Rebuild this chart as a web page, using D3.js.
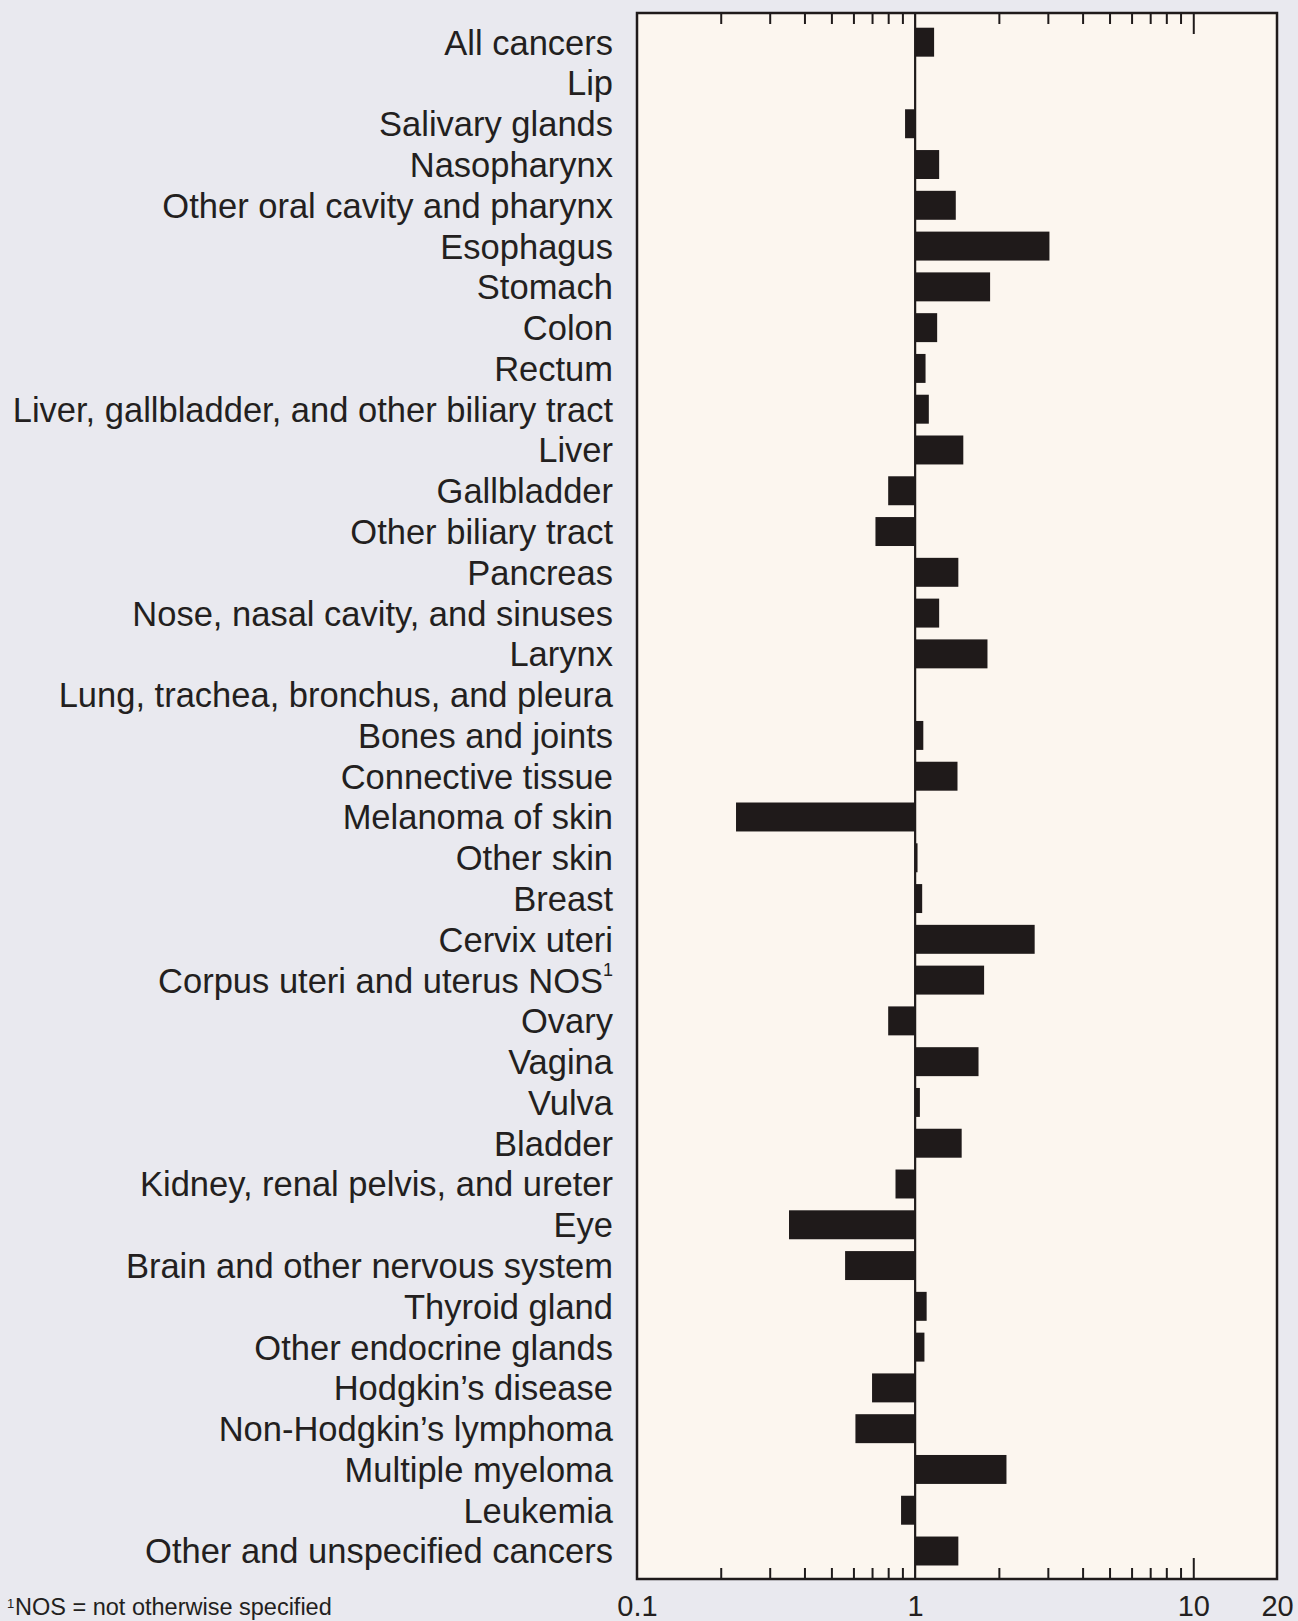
<!DOCTYPE html>
<html>
<head>
<meta charset="utf-8">
<script src="https://cdn.jsdelivr.net/npm/d3@7"></script>
<style>
  html, body { margin: 0; padding: 0; background: #e9e9ef; }
  svg { display: block; }
  text { font-family: "Liberation Sans", Arial, Helvetica, sans-serif; fill: #231f20; }
</style>
</head>
<body>
<svg id="chart" width="1298" height="1621"></svg>
<script>
const categories = [
  "All cancers", "Lip", "Salivary glands", "Nasopharynx", "Other oral cavity and pharynx",
  "Esophagus", "Stomach", "Colon", "Rectum", "Liver, gallbladder, and other biliary tract",
  "Liver", "Gallbladder", "Other biliary tract", "Pancreas", "Nose, nasal cavity, and sinuses",
  "Larynx", "Lung, trachea, bronchus, and pleura", "Bones and joints", "Connective tissue",
  "Melanoma of skin", "Other skin", "Breast", "Cervix uteri", "Corpus uteri and uterus NOS",
  "Ovary", "Vagina", "Vulva", "Bladder", "Kidney, renal pelvis, and ureter", "Eye",
  "Brain and other nervous system", "Thyroid gland", "Other endocrine glands",
  "Hodgkin\u2019s disease", "Non-Hodgkin\u2019s lymphoma", "Multiple myeloma", "Leukemia",
  "Other and unspecified cancers"
];
const values = [
  1.17, 1.00, 0.92, 1.22, 1.40,
  3.04, 1.86, 1.20, 1.09, 1.12,
  1.49, 0.80, 0.72, 1.43, 1.22,
  1.82, 1.00, 1.07, 1.42,
  0.227, 1.02, 1.06, 2.69, 1.77,
  0.80, 1.69, 1.04, 1.47, 0.85, 0.352,
  0.56, 1.10, 1.08,
  0.70, 0.61, 2.13, 0.89,
  1.43
];
const superscripted = ["Corpus uteri and uterus NOS"];
const tickLabels = [0.1, 1, 10, 20];
const minorTicks = [0.2, 0.3, 0.4, 0.5, 0.6, 0.7, 0.8, 0.9, 2, 3, 4, 5, 6, 7, 8, 9];
const majorTicks = [10];
const footnote = "NOS = not otherwise specified";

const svg = d3.select("#chart");
const W = 1298, H = 1621;
const plot = { left: 637, right: 1277, top: 13, bottom: 1579 };

svg.append("rect").attr("x", 0).attr("y", 0).attr("width", W).attr("height", H).attr("fill", "#e9e9ef");

const x = d3.scaleLog().domain([0.1, 20]).range([plot.left, plot.right]);
const y = d3.scaleBand().domain(categories).range([21.8, 1571.4]).paddingInner(0.29).paddingOuter(0.145);

// plot background
svg.append("rect")
  .attr("x", plot.left).attr("y", plot.top)
  .attr("width", plot.right - plot.left).attr("height", plot.bottom - plot.top)
  .attr("fill", "#fcf6ef");

// bars
const data = categories.map((c, i) => ({ c, v: values[i] }));
svg.append("g").selectAll("rect").data(data.filter(d => d.v !== 1)).join("rect")
  .attr("x", d => Math.min(x(d.v), x(1)))
  .attr("width", d => Math.abs(x(d.v) - x(1)))
  .attr("y", d => y(d.c))
  .attr("height", y.bandwidth())
  .attr("fill", "#1f1a1a");

// reference line at 1
svg.append("line")
  .attr("x1", x(1)).attr("x2", x(1))
  .attr("y1", plot.top).attr("y2", plot.bottom)
  .attr("stroke", "#1f1a1a").attr("stroke-width", 2.2);

// ticks top & bottom
function tickAxis(gen, yPos, vals, size) {
  const g = svg.append("g").attr("transform", `translate(0,${yPos})`)
    .call(gen(x).tickValues(vals).tickSize(size).tickFormat(""));
  g.select(".domain").remove();
  g.selectAll(".tick line").attr("stroke", "#1f1a1a").attr("stroke-width", 2);
}
tickAxis(d3.axisBottom, plot.top, minorTicks, 11);
tickAxis(d3.axisBottom, plot.top, majorTicks, 21);
tickAxis(d3.axisTop, plot.bottom, minorTicks, 11);
tickAxis(d3.axisTop, plot.bottom, majorTicks, 21);

// frame
svg.append("rect")
  .attr("x", plot.left).attr("y", plot.top)
  .attr("width", plot.right - plot.left).attr("height", plot.bottom - plot.top)
  .attr("fill", "none").attr("stroke", "#1f1a1a").attr("stroke-width", 2.5);

// tick labels
const lab = svg.append("g").attr("transform", `translate(0,${plot.bottom})`)
  .call(d3.axisBottom(x).tickValues(tickLabels).tickSize(0).tickPadding(16)
    .tickFormat(d => String(d)));
lab.select(".domain").remove();
lab.selectAll("text").attr("font-size", 29)
  .style("font-family", "'Liberation Sans', Arial, sans-serif").attr("fill", "#231f20");

// category labels
const labels = svg.append("g").selectAll("text").data(categories).join("text")
  .attr("x", 613)
  .attr("y", d => y(d) + y.bandwidth() / 2)
  .attr("dy", "0.36em")
  .attr("text-anchor", "end")
  .attr("font-size", 34.5);
labels.each(function(d) {
  const t = d3.select(this);
  t.append("tspan").text(d);
  if (superscripted.includes(d)) {
    t.append("tspan").attr("font-size", 18).attr("dy", "-0.9em").text("1");
  }
});

// footnote
const fn = svg.append("g");
fn.append("text").attr("x", 7).attr("y", 1608).attr("font-size", 13).text("1");
fn.append("text").attr("x", 15).attr("y", 1615).attr("font-size", 23.5).text(footnote);
</script>
</body>
</html>
